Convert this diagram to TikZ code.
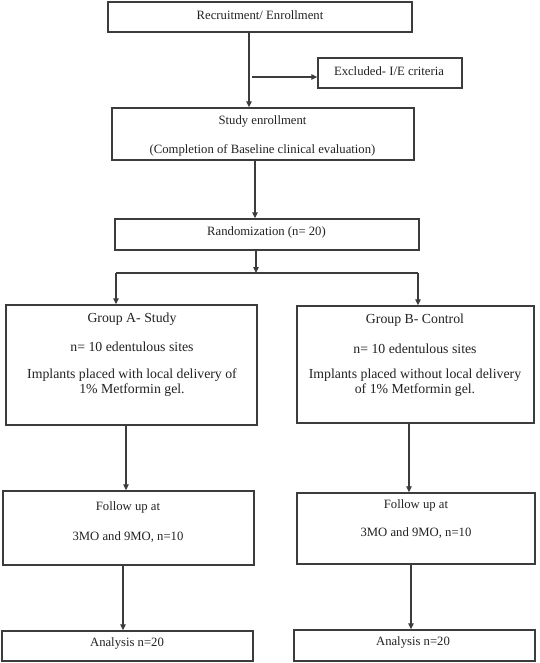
\documentclass[tikz,border=0pt]{standalone}
\usepackage{fontspec}
\setmainfont{Liberation Serif}
\usetikzlibrary{arrows.meta}
\definecolor{linec}{HTML}{3C3C3C}
\definecolor{textc}{HTML}{222222}
\tikzset{
  box/.style={draw=linec, line width=1.4pt, rectangle, inner sep=0pt},
  lbl/.style={text=textc, font=\fontsize{12.7}{15}\selectfont, inner sep=0pt, anchor=center},
  glbl/.style={text=textc, font=\fontsize{13.8}{15}\selectfont, inner sep=0pt, anchor=center, align=center},
  arr/.style={draw=linec, line width=1.1pt, -{Triangle[length=6pt,width=5.5pt]}},
  ln/.style={draw=linec, line width=1.1pt}
}
\begin{document}
\begin{tikzpicture}[x=1pt,y=-1pt]
\useasboundingbox[fill=white] (0,0) rectangle (539,663);
% boxes
\node[box, minimum width=304pt, minimum height=30pt] (rec) at (260,17) {};
\node[box, minimum width=144pt, minimum height=30pt] (exc) at (390,73) {};
\node[box, minimum width=302pt, minimum height=52pt] (study) at (263,134) {};
\node[box, minimum width=304pt, minimum height=31pt] (rand) at (267,234.5) {};
\node[box, minimum width=251pt, minimum height=120pt] (ga) at (131.5,365) {};
\node[box, minimum width=237pt, minimum height=117pt] (gb) at (415.5,364.5) {};
\node[box, minimum width=251pt, minimum height=74pt] (fa) at (128.5,528) {};
\node[box, minimum width=238pt, minimum height=71pt] (fb) at (416,528.5) {};
\node[box, minimum width=251pt, minimum height=30pt] (aa) at (127.5,646) {};
\node[box, minimum width=241pt, minimum height=31pt] (ab) at (414.5,645.5) {};
% texts
\node[lbl] (t1) at (260,15) {Recruitment/ Enrollment};
\node[lbl] (t2) at (389,71) {Excluded- I/E criteria};
\node[lbl] (t3) at (262.5,121) {Study enrollment};
\node[lbl] (t4) at (262.5,150) {(Completion of Baseline clinical evaluation)};
\node[lbl] (t5) at (266.5,232) {Randomization (n= 20)};
\node[glbl] (ga1) at (132,319) {Group A- Study};
\node[glbl] (ga2) at (132,347) {n= 10 edentulous sites};
\node[glbl] (ga3) at (132,382.5) {Implants placed with local delivery of\\1\% Metformin gel.};
\node[glbl] (gb1) at (415,320) {Group B- Control};
\node[glbl] (gb2) at (415,349) {n= 10 edentulous sites};
\node[glbl] (gb3) at (415,383) {Implants placed without local delivery\\of 1\% Metformin gel.};
\node[lbl] (fa1) at (128,507) {Follow up at};
\node[lbl] (fa2) at (128,537) {3MO and 9MO, n=10};
\node[lbl] (fb1) at (416,505) {Follow up at};
\node[lbl] (fb2) at (416,533) {3MO and 9MO, n=10};
\node[lbl] (aa1) at (127,643) {Analysis n=20};
\node[lbl] (ab1) at (413,642) {Analysis n=20};
% helper coordinates
\coordinate (x249) at (249,0);
\coordinate (exs) at (252,77);
\coordinate (x255) at (255,0);
\coordinate (br) at (256,273);
\coordinate (brl) at (116,273);
\coordinate (brr) at (418,273);
\coordinate (x126) at (126,0);
\coordinate (x123) at (123,0);
\coordinate (x409) at (409,0);
\coordinate (x411) at (411,0);
% connectors
\draw[arr] (x249 |- rec.south) -- (x249 |- study.north);
\draw[arr] (exs) -- (exs -| exc.west);
\draw[arr] (x255 |- study.south) -- (x255 |- rand.north);
\draw[arr] (br |- rand.south) -- (br);
\draw[ln] (brl) -- (brr);
\draw[arr] (brl) -- (brl |- ga.north);
\draw[arr] (brr) -- (brr |- gb.north);
\draw[arr] (x126 |- ga.south) -- (x126 |- fa.north);
\draw[arr] (x409 |- gb.south) -- (x409 |- fb.north);
\draw[arr] (x123 |- fa.south) -- (x123 |- aa.north);
\draw[arr] (x411 |- fb.south) -- (x411 |- ab.north);
\end{tikzpicture}
\end{document}
